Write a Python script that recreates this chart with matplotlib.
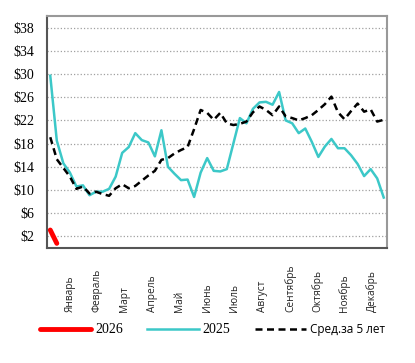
import numpy as np
import matplotlib.pyplot as plt
from matplotlib.transforms import blended_transform_factory

# weekly values
weeks = np.arange(1, 53)
y2025 = [29.7, 18.5, 14.6, 13.0, 10.6, 10.8, 9.1, 9.7, 9.7, 10.2,
         12.3, 16.4, 17.4, 19.8, 18.6, 18.2, 15.8, 20.3, 14.0, 12.8,
         11.7, 11.8, 8.8, 13.0, 15.5, 13.3, 13.2, 13.6, 18.0, 22.4,
         21.5, 24.0, 25.1, 25.2, 24.7, 26.9, 22.0, 21.5, 19.8, 20.6,
         18.3, 15.7, 17.5, 18.8, 17.2, 17.2, 16.0, 14.5, 12.4, 13.6,
         12.0, 8.7]
avg5 = [19.1, 15.3, 13.8, 12.3, 10.2, 10.6, 9.4, 9.7, 9.3, 9.0,
        10.3, 11.0, 10.3, 10.7, 11.6, 12.5, 13.3, 15.2, 15.5, 16.3,
        16.9, 17.4, 20.5, 23.8, 23.3, 22.1, 23.3, 21.5, 21.2, 21.4,
        21.8, 23.4, 24.4, 23.8, 22.9, 24.4, 22.7, 22.4, 22.0, 22.4,
        22.9, 23.8, 24.8, 26.1, 23.4, 22.2, 23.6, 24.9, 23.5, 23.9,
        21.8, 22.1]
weeks2026 = [1, 2]
y2026 = [3.1, 0.8]

months = ['Январь', 'Февраль', 'Март', 'Апрель', 'Май', 'Июнь', 'Июль',
          'Август', 'Сентябрь', 'Октябрь', 'Ноябрь', 'Декабрь']
month_pos = [4.0, 8.1, 12.4, 16.6, 20.8, 25.0, 29.2, 33.4, 37.7, 41.8, 45.9, 50.2]
yticks = [2, 6, 10, 14, 18, 22, 26, 30, 34, 38]

fig = plt.figure(figsize=(4.15, 3.63), dpi=100)
ax = fig.add_axes([47/415, 115/363, 340/415, 232/363])

l1, = ax.plot(weeks2026, y2026, color='#ff0000', lw=3.5, solid_capstyle='round', label='2026')
l2, = ax.plot(weeks, y2025, color='#3cc8c8', lw=1.8, label='2025')
l3, = ax.plot(weeks, avg5, color='black', lw=1.8, dashes=(2.8, 1.8), label='Сред.за 5 лет')

ax.set_xlim(0.5, 52.5)
ax.set_ylim(0, 40)
ax.set_yticks(yticks)
ax.set_yticklabels(['$' + str(t) for t in yticks], family='Liberation Serif', fontsize=10)
ax.set_xticks([])
ax.tick_params(axis='y', length=0, pad=9)
ax.yaxis.grid(True, color='#a0a0a0', linestyle=':', lw=0.9)
ax.set_axisbelow(True)

for s in ['top', 'right']:
    ax.spines[s].set_color('#999999')
    ax.spines[s].set_linewidth(1.5)
for s in ['left', 'bottom']:
    ax.spines[s].set_color('#555555')
    ax.spines[s].set_linewidth(1.5)

trans = blended_transform_factory(ax.transData, ax.transAxes)
for m, p in zip(months, month_pos):
    ax.text(p, -0.276, m, rotation=90, ha='center', va='bottom', transform=trans,
            fontsize=7.3, family=['Open Sans', 'DejaVu Sans'], color='#222222')

leg = fig.legend(handles=[l1, l2, l3], loc='center', bbox_to_anchor=(0.512, 0.091),
                 ncol=3, frameon=False, handlelength=3.7,
                 handletextpad=0.3, columnspacing=1.75,
                 prop={'family': 'Liberation Serif', 'size': 10})
leg.get_texts()[2].set_family(['Open Sans', 'DejaVu Sans'])
leg.get_texts()[2].set_fontsize(8.5)

fig.savefig('out.png', dpi=100)
